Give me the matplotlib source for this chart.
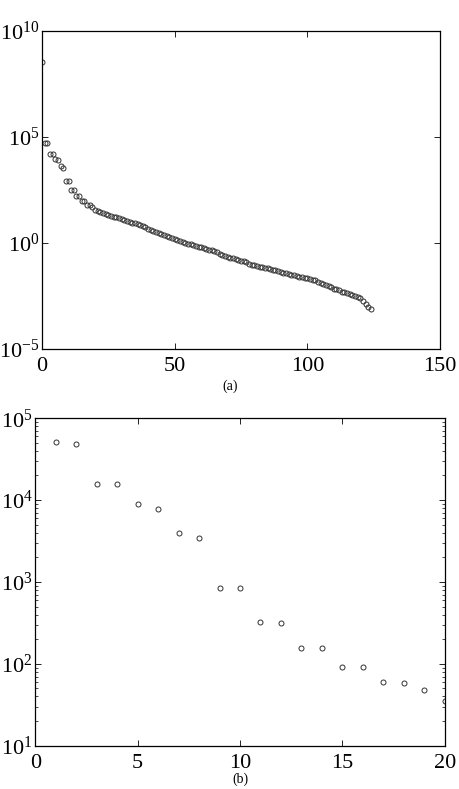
import matplotlib

matplotlib.use("Agg")
import matplotlib.pyplot as plt
import numpy as np
from matplotlib.ticker import FixedLocator, LogLocator, NullLocator

plt.rcParams["font.family"] = ["Liberation Serif", "DejaVu Serif"]
plt.rcParams["mathtext.fontset"] = "stix"

# (a) log10 of every value, index 0..124
log_values_a = [
    8.52, 4.71, 4.69, 4.20, 4.20, 3.95, 3.89, 3.60, 3.54, 2.93,
    2.92, 2.51, 2.50, 2.20, 2.19, 1.96, 1.96, 1.77, 1.76, 1.68,
    1.55, 1.50, 1.46, 1.42, 1.37, 1.33, 1.27, 1.22, 1.21, 1.17,
    1.10, 1.06, 1.03, 0.99, 0.95, 0.91, 0.87, 0.83, 0.78, 0.74,
    0.66, 0.61, 0.57, 0.53, 0.48, 0.42, 0.38, 0.34, 0.28, 0.22,
    0.16, 0.12, 0.08, 0.04, 0.00, -0.05, -0.08, -0.11, -0.14, -0.18,
    -0.22, -0.25, -0.28, -0.32, -0.36, -0.40, -0.46, -0.51, -0.56, -0.61,
    -0.66, -0.70, -0.74, -0.77, -0.80, -0.84, -0.88, -0.93, -0.98, -1.03,
    -1.06, -1.10, -1.13, -1.15, -1.18, -1.21, -1.24, -1.28, -1.30, -1.33,
    -1.37, -1.41, -1.45, -1.48, -1.51, -1.54, -1.57, -1.60, -1.63, -1.65,
    -1.68, -1.71, -1.74, -1.78, -1.83, -1.89, -1.95, -2.01, -2.06, -2.11,
    -2.16, -2.20, -2.25, -2.30, -2.34, -2.38, -2.42, -2.46, -2.50, -2.55,
    -2.62, -2.74, -2.88, -3.02, -3.12,
]

# (b) first 20 values (index 1..20)
index_b = list(range(1, 21))
values_b = [
    50900, 49000, 15900, 15800, 8900, 7800, 3970, 3450, 845, 838,
    324, 315, 158, 155, 90.6, 90.6, 59.4, 57.8, 48.3, 35.2,
]

MARKER = dict(marker="o", linestyle="none", markersize=3.6,
              markerfacecolor="none", markeredgecolor="#333333",
              markeredgewidth=0.7)


def style_axes(ax):
    ax.tick_params(which="both", direction="in", top=True, right=True,
                   labelsize=16)
    ax.tick_params(axis="x", pad=6)
    ax.tick_params(axis="y", pad=2)
    ax.tick_params(which="major", length=4, width=0.6)
    ax.tick_params(which="minor", length=2, width=0.5)
    for s in ax.spines.values():
        s.set_linewidth(0.9)


fig = plt.figure(figsize=(4.59, 7.89), dpi=100)

ax1 = fig.add_axes([0.0915, 0.558, 0.867, 0.403])
index_a = np.arange(len(log_values_a))
ax1.semilogy(index_a, 10.0 ** np.array(log_values_a), **MARKER)
ax1.set_xlim(0, 150)
ax1.set_ylim(1e-5, 1e10)
ax1.set_xticks([0, 50, 100, 150])
ax1.yaxis.set_major_locator(FixedLocator([1e-5, 1e0, 1e5, 1e10]))
ax1.yaxis.set_minor_locator(NullLocator())
style_axes(ax1)
fig.text(0.502, 0.510, "(a)", ha="center", va="center", fontsize=10)

ax2 = fig.add_axes([0.0769, 0.0549, 0.892, 0.415])
ax2.semilogy(index_b, values_b, **MARKER)
ax2.set_xlim(0, 20)
ax2.set_ylim(1e1, 1e5)
ax2.set_xticks([0, 5, 10, 15, 20])
ax2.yaxis.set_major_locator(LogLocator(base=10))
ax2.yaxis.set_minor_locator(LogLocator(base=10, subs=np.arange(2, 10)))
style_axes(ax2)
fig.text(0.524, 0.004, "(b)", ha="center", va="bottom", fontsize=10)

fig.savefig("out.png", dpi=100)
